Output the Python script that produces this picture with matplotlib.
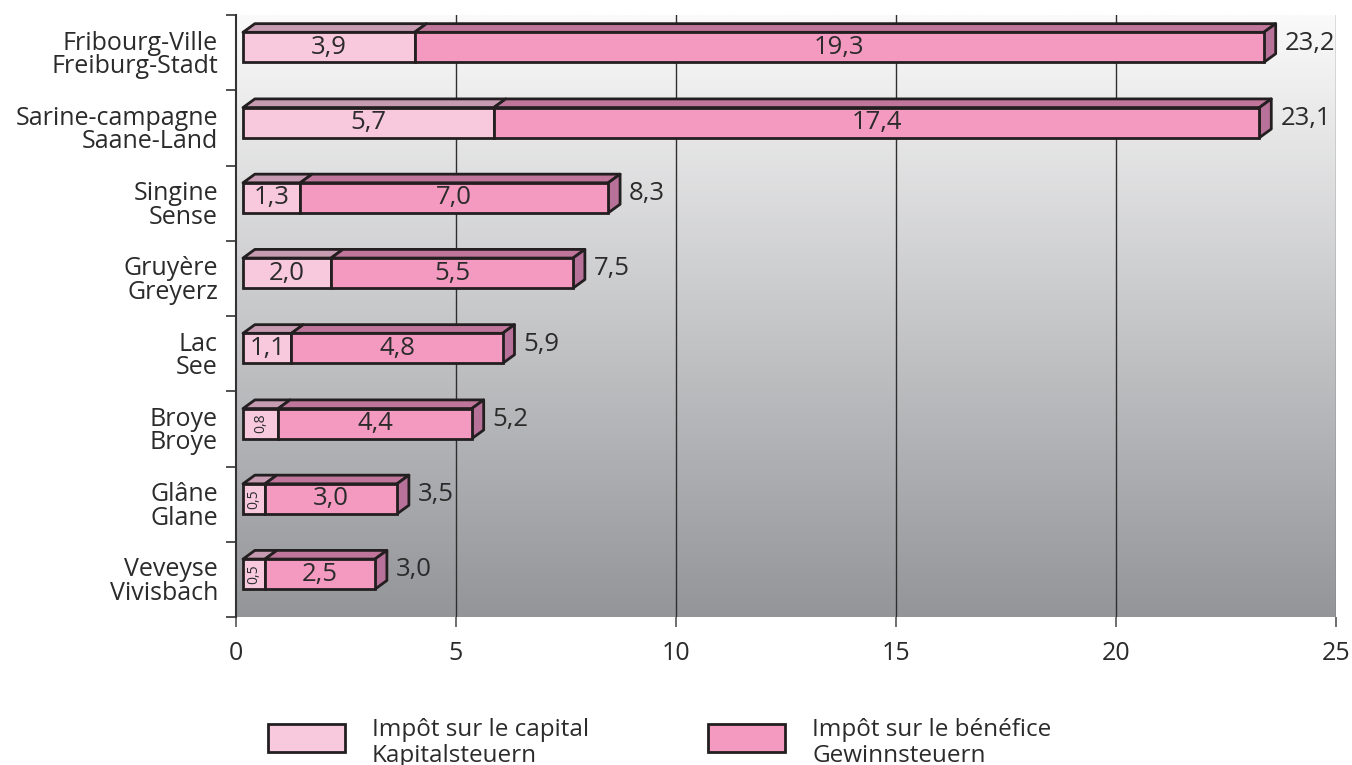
import matplotlib
matplotlib.use('Agg')
import matplotlib.pyplot as plt
import numpy as np
from matplotlib.patches import Polygon, Rectangle
from matplotlib.transforms import ScaledTranslation
from matplotlib.colors import LinearSegmentedColormap

plt.rcParams['font.family'] = ['Open Sans', 'DejaVu Sans']

categories = ["Fribourg-Ville\nFreiburg-Stadt", "Sarine-campagne\nSaane-Land", "Singine\nSense",
              "Gruyère\nGreyerz", "Lac\nSee", "Broye\nBroye", "Glâne\nGlane", "Veveyse\nVivisbach"]
capital = [3.9, 5.7, 1.3, 2.0, 1.1, 0.8, 0.5, 0.5]
benefice = [19.3, 17.4, 7.0, 5.5, 4.8, 4.4, 3.0, 2.5]
xticks = [0, 5, 10, 15, 20, 25]
legend_labels = ["Impôt sur le capital\nKapitalsteuern", "Impôt sur le bénéfice\nGewinnsteuern"]

# styles
col_cap, col_ben = '#f8c9dd', '#f49ac1'
top_cap, top_ben = '#c79bb1', '#c0759b'
side_col = '#b8729a'
edge = '#231f20'
lw = 2.0
txt = '#2b2b2b'

W, H = 1352, 765
fig = plt.figure(figsize=(W / 100, H / 100), dpi=100)
ax = fig.add_axes([236 / W, 1 - 617 / H, 1100 / W, 602 / H])

# background gradient
grad = np.linspace(0, 1, 256).reshape(-1, 1)
cmap = LinearSegmentedColormap.from_list('bg', ['#fafafa', '#949599'])
ax.imshow(grad, extent=[0, 1, 0, 1], transform=ax.transAxes, cmap=cmap, aspect='auto', zorder=0)

n = len(categories)
ax.set_xlim(xticks[0], xticks[-1])
ax.set_ylim(n - 0.5, -0.5)

for x in xticks[1:]:
    ax.axvline(x, color='#2f2f2f' if x != xticks[-1] else '#6a6a6a', lw=1.0, zorder=1)

off = ax.transData + ScaledTranslation(7 / 100, 0, fig.dpi_scale_trans)
h = 0.40
dx = 0.27
dy = 0.115
shift = -0.07

def fmt(v):
    return f"{v:.1f}".replace('.', ',')

ypos = np.arange(n) + shift
bars_c = ax.barh(ypos, capital, height=h, left=0, color=col_cap, edgecolor=edge, linewidth=lw, zorder=4)
bars_b = ax.barh(ypos, benefice, height=h, left=capital, color=col_ben, edgecolor=edge, linewidth=lw, zorder=4)
for r in list(bars_c) + list(bars_b):
    r.set_transform(off)

for i, (c, b) in enumerate(zip(capital, benefice)):
    yc = ypos[i]
    top = yc - h / 2
    bot = yc + h / 2
    for x0, x1, tc in [(0, c, top_cap), (c, c + b, top_ben)]:
        ax.add_patch(Polygon([(x0, top), (x1, top), (x1 + dx, top - dy), (x0 + dx, top - dy)], closed=True,
                             fc=tc, ec=edge, lw=lw, transform=off, zorder=3, joinstyle='round'))
    tot = c + b
    ax.add_patch(Polygon([(tot, top), (tot + dx, top - dy), (tot + dx, bot - dy), (tot, bot)], closed=True,
                         fc=side_col, ec=edge, lw=lw, transform=off, zorder=3, joinstyle='round'))
    # inside labels
    for x0, v in [(0, c), (c, b)]:
        if v < 1:
            ax.text(x0 + v / 2, yc, fmt(v), rotation=90, ha='center', va='center', fontsize=10,
                    color=txt, transform=off, zorder=5)
        else:
            ax.text(x0 + v / 2, yc, fmt(v), ha='center', va='center', fontsize=18.5,
                    color=txt, transform=off, zorder=5)
    ax.text(tot + dx, yc - dy / 2, fmt(tot), ha='left', va='center', fontsize=18.5, color=txt,
            transform=off + ScaledTranslation(9 / 100, 0, fig.dpi_scale_trans), zorder=5)

# axes styling
for s in ['top', 'right', 'bottom']:
    ax.spines[s].set_visible(False)
ax.spines['left'].set_color('#333333')
ax.spines['left'].set_linewidth(1.5)
ax.spines['left'].set_zorder(6)

ax.set_yticks(np.arange(n + 1) - 0.5)
ax.set_yticklabels([])
ax.set_yticks(np.arange(n), minor=True)
ax.set_yticklabels(categories, minor=True, fontsize=18, color=txt, linespacing=0.92)
ax.tick_params(axis='y', which='major', direction='out', length=7.5, width=1.2, color='#333333')
ax.tick_params(axis='y', which='minor', length=0, pad=13)

ax.set_xticks(xticks)
ax.set_xticklabels([str(x) for x in xticks], fontsize=18, color=txt)
ax.tick_params(axis='x', direction='out', length=7.5, width=1.2, color='#555555', pad=10)

# legend
for k, (lab, fc) in enumerate(zip(legend_labels, [col_cap, col_ben])):
    x0 = [268, 708][k]
    fig.patches.append(Rectangle((x0 / W, 1 - 752 / H), 77 / W, 28 / H, transform=fig.transFigure,
                                 fc=fc, ec=edge, lw=2.0))
    fig.text((x0 + 104) / W, 1 - 743 / H, lab, ha='left', va='center', fontsize=17.5, color=txt,
             linespacing=1.08)

fig.savefig('out.png', dpi=100)
